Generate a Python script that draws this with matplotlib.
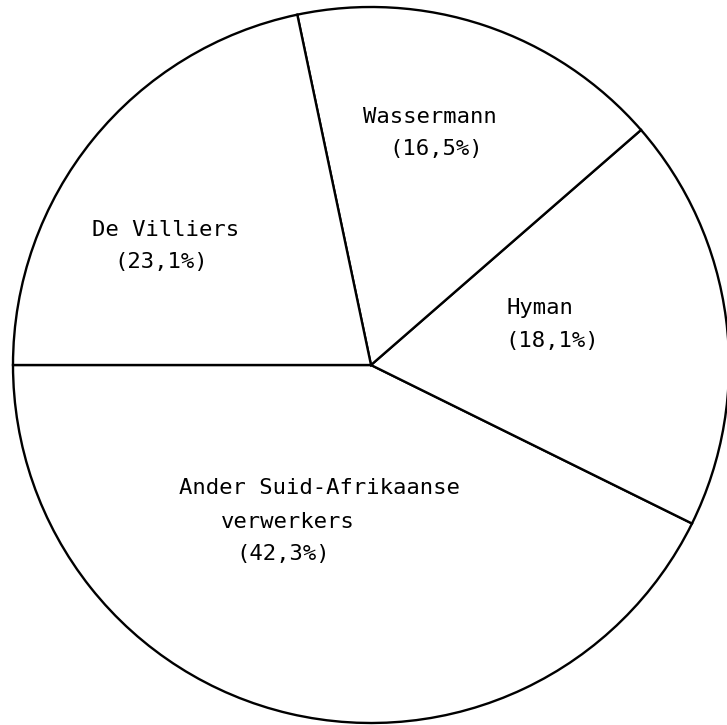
import matplotlib
matplotlib.use("Agg")
import matplotlib.pyplot as plt

# wedge shares as drawn in the picture (percent), counterclockwise from 9 o'clock
segments = ['Ander Suid-Afrikaanse', 'Hyman', 'Wassermann', 'De Villiers']
shares = [42.7, 18.7, 16.9, 21.7]

# label lines as printed on the chart
label_lines = [
    ['Ander Suid-Afrikaanse', 'verwerkers', '(42,3%)'],
    ['Hyman', '(18,1%)'],
    ['Wassermann', '(16,5%)'],
    ['De Villiers', '(23,1%)'],
]
# line centres in pixels from the top-left corner
label_pos = [
    [(319, 488), (288, 522), (283, 554)],
    [(540, 308), (552, 341)],
    [(430, 117), (436, 149)],
    [(166, 230), (161, 262)],
]

W, H = 727, 725
fig = plt.figure(figsize=(W / 100, H / 100), dpi=100)
ax = fig.add_axes([0, 0, 1, 1])
ax.set_xlim(0, W)
ax.set_ylim(0, H)
ax.set_aspect('equal')
ax.axis('off')

ax.pie(shares, startangle=180, counterclock=True,
       center=(371, H - 365), radius=358,
       colors=['white'] * len(shares),
       wedgeprops=dict(edgecolor='black', linewidth=1.7))
ax.set_xlim(0, W)
ax.set_ylim(0, H)

for lines, pos in zip(label_lines, label_pos):
    for txt, (x, y) in zip(lines, pos):
        ax.text(x, H - y, txt, ha='center', va='center',
                family='DejaVu Sans Mono', fontsize=16, color='black')

fig.savefig('out.png', dpi=100, facecolor='white')
